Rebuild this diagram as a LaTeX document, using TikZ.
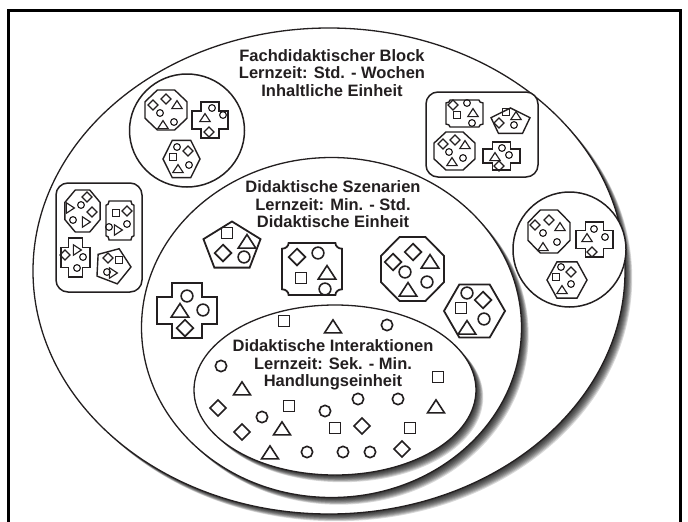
\documentclass[tikz,border=0pt]{standalone}
\usepackage{fontspec}
\setmainfont{Liberation Sans}
\definecolor{ink}{RGB}{35,31,32}
\tikzset{
    ring/.style={draw=ink, fill=white, line width=1.3pt},
    shadowring/.style={fill=black, opacity=0.15},
    cellbox/.style={draw=ink, fill=white},
    headtext/.style={align=center, text=ink, font=\bfseries\fontsize{16.5}{17.5}\selectfont},
    % small signs
    pics/ci/.style={code={\draw (0,0) circle (0.42);}},
    pics/sq/.style={code={\draw (-0.42,-0.42) rectangle (0.42,0.42);}},
    pics/tr/.style={code={\draw (-0.65,0.45) -- (0.65,0.45) -- (0,-0.55) -- cycle;}},
    pics/di/.style={code={\draw (0,-0.62) -- (0.62,0) -- (0,0.62) -- (-0.62,0) -- cycle;}},
    % cells
    pics/oct/.style={code={\draw[cellbox] (22.5:1) foreach \a in {67.5,112.5,...,337.5} {-- (\a:1)} -- cycle;}},
    pics/hex/.style={code={\draw[cellbox] (0:1) foreach \a in {60,120,...,300} {-- (\a:1)} -- cycle;}},
    pics/pent/.style={code={\draw[cellbox] (#1:1) foreach \k in {1,...,4} {-- ({#1+72*\k}:1)} -- cycle;}},
    pics/cross/.style={code={\draw[cellbox] (-0.5,-1) -- (0.5,-1) -- (0.5,-0.5) -- (1,-0.5) -- (1,0.5) -- (0.5,0.5)
        -- (0.5,1) -- (-0.5,1) -- (-0.5,0.5) -- (-1,0.5) -- (-1,-0.5) -- (-0.5,-0.5) -- cycle;}},
    pics/notch/.style={code={\draw[cellbox] (-0.78,-1) -- (0.78,-1) arc[start angle=180, end angle=90, radius=0.22]
        -- (1,0.78) arc[start angle=270, end angle=180, radius=0.22]
        -- (-0.78,1) arc[start angle=0, end angle=-90, radius=0.22]
        -- (-1,-0.78) arc[start angle=90, end angle=0, radius=0.22] -- cycle;}}
  }

\begin{document}
\begin{tikzpicture}[x=1pt, y=-1pt, color=ink]
 \useasboundingbox (0,0) rectangle (688,522);
 %frame
     \draw[black, line width=3pt] (8.5,540) -- (8.5,10) -- (680,10) -- (680,540);
 %Fachdidaktischer Block
     \foreach \d in {1,...,9}
       \fill[shadowring] ({329+0.8*\d},{271+0.8*\d}) ellipse [x radius=296, y radius=243];
     \draw[ring] (329,271) ellipse [x radius=296, y radius=243];
     \node[headtext] (block) at (332,73) {Fachdidaktischer Block\\Lernzeit: Std. - Wochen\\Inhaltliche Einheit};
 %Didaktische Szenarien
     \foreach \d in {1,...,9}
       \fill[shadowring] ({331.5+0.8*\d},{327.5+0.8*\d}) ellipse [x radius=190, y radius=170];
     \draw[ring] (331.5,327.5) ellipse [x radius=190, y radius=170];
     \node[headtext] (szenarien) at (333,204.5) {Didaktische Szenarien\\Lernzeit: Min. - Std.\\Didaktische Einheit};
 %Didaktische Interaktionen
     \foreach \d in {1,...,9}
       \fill[shadowring] ({335+0.8*\d},{390+0.8*\d}) ellipse [x radius=141, y radius=85];
     \draw[ring] (335,390) ellipse [x radius=141, y radius=85];
     \node[headtext] (interaktionen) at (333,365) {Didaktische Interaktionen\\Lernzeit: Sek. - Min.\\Handlungseinheit};

 %% groups in the block
     \draw[ring, line width=1.5pt] (187,130.5) ellipse [x radius=57.5, y radius=56.5];
     \draw[ring, line width=1.5pt, rounded corners=12pt] (426,92) rectangle (538,177);
     \draw[ring, line width=1.5pt, rounded corners=12pt] (56,183) rectangle (142,292);
     \draw[ring, line width=1.5pt] (569.5,249.5) ellipse [x radius=56.5, y radius=57.5];
 \begin{scope}[line width=1.4pt]
 %top left
     \pic[xscale=22.7, yscale=21.6] at (166,110) {oct};
     \pic[scale=18] at (210,120) {cross};
     \pic[xscale=18.5, yscale=21.5] at (181.5,159) {hex};
 %top right
     \pic[xscale=18.5, yscale=13.5] at (464.5,113.5) {notch};
     \pic[xscale=20.5, yscale=14] at (510.5,122) {pent=-90};
     \pic[xscale=22.2, yscale=20.6] at (454.5,151) {oct};
     \pic[xscale=18.5, yscale=14] at (501.5,156) {cross};
 %left
     \pic[xscale=19, yscale=22.7] at (82.5,211) {oct};
     \pic[xscale=14, yscale=19.5] at (120,220.5) {notch};
     \pic[xscale=14.5, yscale=19.5] at (75.5,257.5) {cross};
     \pic[scale=18.5] at (112.5,266) {pent=3};
 %right
     \pic[xscale=22.7, yscale=23.3] at (549,231.5) {oct};
     \pic[xscale=18.5, yscale=17.5] at (594.5,239.5) {cross};
     \pic[xscale=20, yscale=21] at (567,280) {hex};
 \end{scope}
 \begin{scope}[line width=1.15pt]
     \foreach \x/\y in {160/113,174/122, 212/108,223/115, 177/147,189/165,
                        467/103,472/123, 514/125, 449/152,463/158, 502/148,509/155,
                        81/205,73/220, 127/224,109/227, 83/257,77/268, 107/272,
                        543/233,557/242, 594/229,605/237, 561/267,571/284}
       \pic[scale=8] at (\x,\y) {ci};
     \foreach \x/\y in {173/157, 457/115, 506/112, 116/213, 119/260, 556/277}
       \pic[scale=8] at (\x,\y) {sq};
     \foreach \x/\y in {177/105,163/125, 205/118, 178/169,
                        473/113, 516/116, 465/145,452/162, 495/157,
                        560/227,543/247, 587/238, 562/290}
       \pic[scale=8] at (\x,\y) {tr};
     \foreach \x/\y in {70/208,86/222, 118/230, 77/250, 113/273}
       \pic[scale=8, rotate=-90] at (\x,\y) {tr};
     \foreach \x/\y in {153/105,166/99, 209/132, 188/151,
                        453/105, 499/123, 443/144,455/140, 499/166,
                        87/197,92/212, 127/211, 65/255, 108/258,
                        535/225,549/220, 592/252, 571/272}
       \pic[scale=8] at (\x,\y) {di};
 \end{scope}

 %% scenarios
 \begin{scope}[line width=1.8pt]
     \pic[xscale=30, yscale=25.5] at (232,247) {pent=-90};
     \pic[xscale=30, yscale=26] at (312,269) {notch};
     \pic[xscale=34, yscale=34.6] at (412.5,269) {oct};
     \pic[scale=30.5] at (474.5,311) {hex};
     \pic[xscale=30, yscale=27.5] at (187,310.5) {cross};
 \end{scope}
 \begin{scope}[line width=1.6pt]
     \foreach \x/\y in {244/257, 318/253,325/289, 405/272,427/282, 467/293,484/319, 187/296,203/310}
       \pic[scale=14] at (\x,\y) {ci};
     \foreach \x/\y in {227/233, 301/278, 461/308}
       \pic[scale=13.5] at (\x,\y) {sq};
     \foreach \x/\y in {247/242, 327/273, 430/262,408/290, 467/328, 180/311}
       \pic[scale=13.5] at (\x,\y) {tr};
     \foreach \x/\y in {223/253, 297/257, 393/262,413/252, 483/300, 185/328}
       \pic[scale=13.5] at (\x,\y) {di};
 %% interactions
     \foreach \x/\y in {387/325, 221/366, 358/399, 398/399, 262/417, 325/411, 307/452, 343/452, 370/452}
       \pic[scale=13.5] at (\x,\y) {ci};
     \foreach \x/\y in {284/321, 438/377, 289/406, 335/428, 410/428}
       \pic[scale=13] at (\x,\y) {sq};
     \foreach \x/\y in {333/327, 242/389, 436/407, 282/429, 270/453}
       \pic[scale=13] at (\x,\y) {tr};
     \foreach \x/\y in {218/408, 242/432, 362/426, 402/449}
       \pic[scale=13] at (\x,\y) {di};
 \end{scope}
\end{tikzpicture}
\end{document}
